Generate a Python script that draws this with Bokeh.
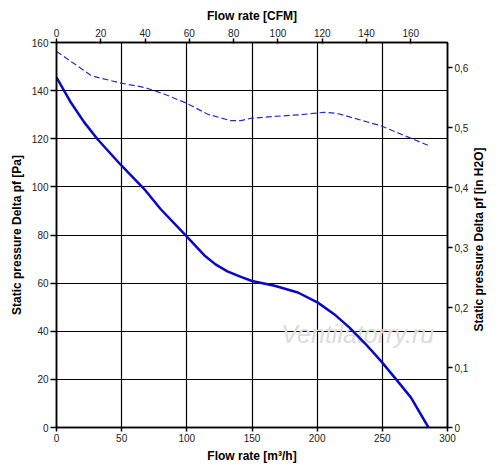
import math
from bokeh.plotting import figure
from bokeh.models import LinearAxis, Range1d, FixedTicker, CustomJSTickFormatter
from bokeh.core.properties import value
from bokeh.embed import file_html
from bokeh.resources import INLINE

# Data (m3/h, Pa)
solid_flow = [0, 10.5, 21.3, 31.5, 49.4, 67.3, 80, 99.5, 113.3, 122, 131.1, 141.5, 150, 167.3, 185.2, 200.5, 213.3, 224.8, 237, 249, 260.6, 272, 285.4]
solid_pa = [145.5, 135.5, 126.8, 119.8, 109.1, 99.1, 90.7, 79.6, 71.6, 67.8, 64.9, 62.6, 60.9, 58.9, 56.1, 51.9, 47.0, 41.5, 34.8, 27.6, 20.0, 12.4, 0.0]

dash_flow = [0, 26.8, 34.5, 49.8, 67.6, 83, 100, 116, 133.6, 141.5, 149, 167.3, 187.5, 205.4, 215.6, 248.8, 285.8]
dash_pa = [156.3, 146.2, 145.1, 143.1, 141.3, 138.5, 134.7, 130.2, 127.5, 127.5, 128.5, 129.3, 130.0, 131.0, 130.5, 125.4, 117.1]

x_ticks = [0, 50, 100, 150, 200, 250, 300]
y_ticks = [0, 20, 40, 60, 80, 100, 120, 140, 160]
cfm_ticks = [0, 20, 40, 60, 80, 100, 120, 140, 160]
inh2o_ticks = [0, 0.1, 0.2, 0.3, 0.4, 0.5, 0.6]

CFM_PER_M3H = 0.588578
INH2O_PER_PA = 0.0040146

FONT = "Liberation Sans"

p = figure(frame_width=391, frame_height=385, output_backend="svg", toolbar_location=None,
           x_range=Range1d(0, 300), y_range=Range1d(0, 160),
           min_border_left=56, min_border_right=44, min_border_top=42, min_border_bottom=37,
           background_fill_color="white", border_fill_color="white")

p.outline_line_color = "black"
p.outline_line_width = 1.5

p.extra_x_ranges = {"cfm": Range1d(0, 300 * CFM_PER_M3H)}
p.extra_y_ranges = {"inh2o": Range1d(0, 160 * INH2O_PER_PA)}

def style_axis(ax, tin, tout):
    ax.axis_line_color = "black"
    ax.axis_line_width = 1.5
    ax.major_tick_line_color = "black"
    ax.major_tick_line_width = 1.5
    ax.major_tick_in = tin
    ax.major_tick_out = tout
    ax.minor_tick_line_color = None
    ax.major_label_text_font = FONT
    ax.major_label_text_font_size = "10px"
    ax.major_label_text_color = "#222222"
    ax.major_label_standoff = 2
    ax.axis_label_text_font = FONT
    ax.axis_label_text_font_style = "bold"
    ax.axis_label_text_font_size = "12px"
    ax.axis_label_text_color = "black"

xa = p.xaxis[0]
xa.ticker = FixedTicker(ticks=x_ticks)
xa.axis_label = "Flow rate [m³/h]"
xa.axis_label_standoff = 4
style_axis(xa, 0, 4)

ya = p.yaxis[0]
ya.ticker = FixedTicker(ticks=y_ticks)
ya.axis_label = "Static pressure Delta pf [Pa]"
ya.axis_label_standoff = 5
style_axis(ya, 0, 6)

top = LinearAxis(x_range_name="cfm", ticker=FixedTicker(ticks=cfm_ticks), axis_label="Flow rate [CFM]")
style_axis(top, 1, 4)
top.axis_label_standoff = 3
p.add_layout(top, "above")

right = LinearAxis(y_range_name="inh2o", ticker=FixedTicker(ticks=inh2o_ticks),
                   axis_label="\u2003" * 8 + "Static pressure Delta pf [in H2O]")
right.formatter = CustomJSTickFormatter(code="return tick == 0 ? '0' : tick.toFixed(1).replace('.', ',');")
style_axis(right, 0, 5)
right.axis_label_standoff = 8
right.axis_label_orientation = math.pi / 2
right.axis_label_align = "start"
p.add_layout(right, "right")

p.xgrid.ticker = FixedTicker(ticks=x_ticks)
p.ygrid.ticker = FixedTicker(ticks=y_ticks)
p.xgrid.grid_line_color = "black"
p.ygrid.grid_line_color = "black"
p.xgrid.grid_line_width = 1.2
p.ygrid.grid_line_width = 1.2

# watermark
p.text(x=[172.5], y=[38.8], text=["Ventilatorry.ru"], text_font=value(FONT),
       text_font_style="italic", text_font_size="25px", text_color="#dcdcdc",
       text_baseline="middle", text_align="left")

p.line(dash_flow, dash_pa, line_color="#2a2ad0", line_width=1.2, line_dash="6 3")
p.line(solid_flow, solid_pa, line_color="#0808c8", line_width=2.5)

open("out.html", "w").write(file_html(p, INLINE))
